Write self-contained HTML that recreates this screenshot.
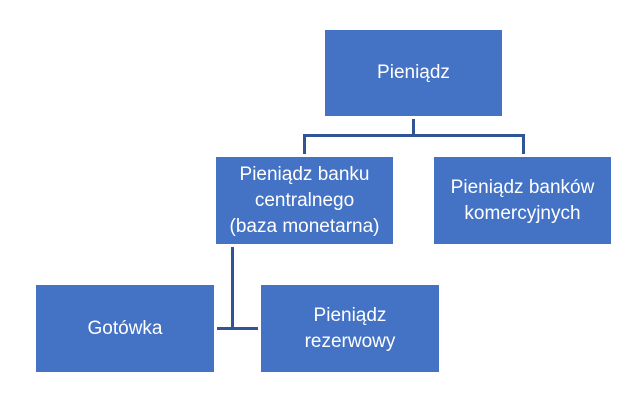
<!DOCTYPE html>
<html><head><style>
body{margin:0;width:643px;height:417px;background:#fff;position:relative;overflow:hidden;font-family:"Liberation Sans",sans-serif}
.b{position:absolute;background:#4472C4;color:#fff;display:flex;align-items:center;justify-content:center;text-align:center;font-size:19px;line-height:26px}
.l{position:absolute;background:#2F5597}
</style></head><body>
<div class="b" style="left:325px;top:30px;width:177px;height:86px">Pieniądz</div>
<div class="b" style="left:216px;top:157px;width:177px;height:87px">Pieniądz banku<br>centralnego<br>(baza monetarna)</div>
<div class="b" style="left:434px;top:157px;width:177px;height:87px">Pieniądz banków<br>komercyjnych</div>
<div class="b" style="left:36px;top:285px;width:178px;height:87px">Gotówka</div>
<div class="b" style="left:261px;top:285px;width:178px;height:87px">Pieniądz<br>rezerwowy</div>
<div class="l" style="left:412px;top:119px;width:3px;height:17px"></div>
<div class="l" style="left:303px;top:134px;width:222px;height:3px"></div>
<div class="l" style="left:303px;top:134px;width:3px;height:20px"></div>
<div class="l" style="left:522px;top:134px;width:3px;height:20px"></div>
<div class="l" style="left:231px;top:247px;width:3px;height:82px"></div>
<div class="l" style="left:217px;top:327px;width:41px;height:3px"></div>
</body></html>
